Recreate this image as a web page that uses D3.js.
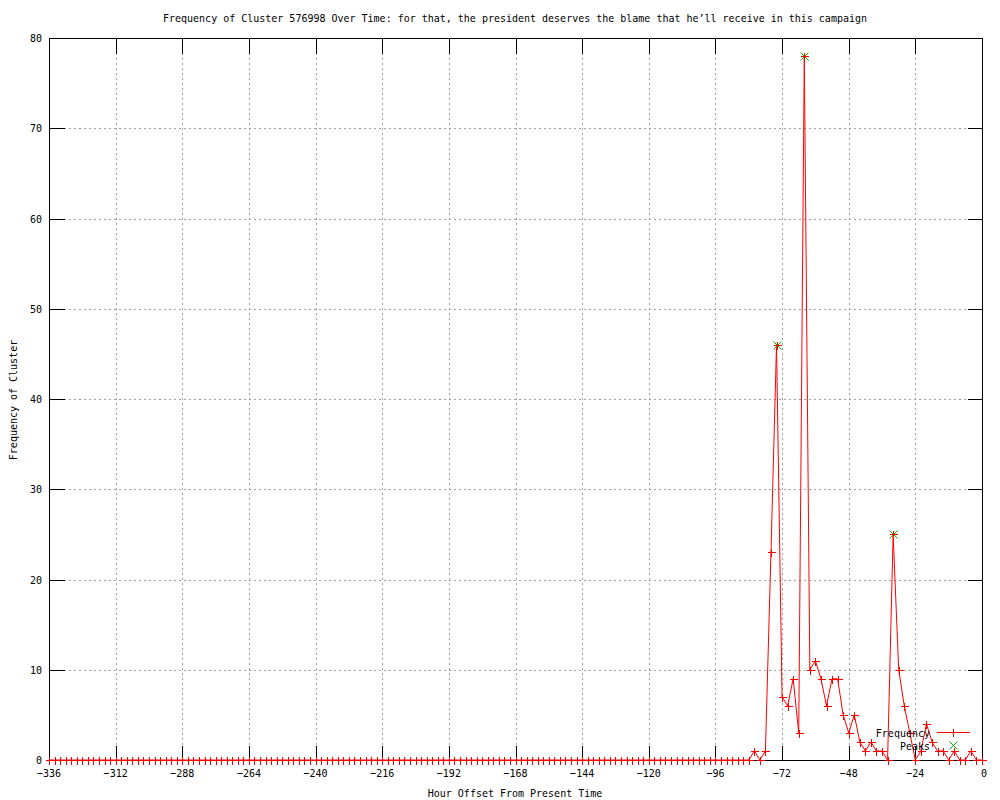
<!DOCTYPE html>
<html>
<head>
<meta charset="utf-8">
<script src="https://cdn.jsdelivr.net/npm/d3@7"></script>
<style>
  html, body { margin: 0; padding: 0; background: #fff; }
  svg { display: block; }
  text { font-family: "DejaVu Sans Mono", "Liberation Mono", monospace; font-size: 11px; fill: #000; }
</style>
</head>
<body>
<svg id="chart" width="1000" height="800"></svg>
<script>
// ---- Data ----
const titleText = "Frequency of Cluster 576998 Over Time: for that, the president deserves the blame that he\u2019ll receive in this campaign";
const xLabelText = "Hour Offset From Present Time";
const yLabelText = "Frequency of Cluster";
const seriesNames = ["Frequency", "Peaks"];

// hour offsets: every 2 hours from -336 to 0
const hours = d3.range(-336, 1, 2);
// frequency values, one per hour offset above
const frequency = [
  0,0,0,0,0,0,0,0,0,0, 0,0,0,0,0,0,0,0,0,0,
  0,0,0,0,0,0,0,0,0,0, 0,0,0,0,0,0,0,0,0,0,
  0,0,0,0,0,0,0,0,0,0, 0,0,0,0,0,0,0,0,0,0,
  0,0,0,0,0,0,0,0,0,0, 0,0,0,0,0,0,0,0,0,0,
  0,0,0,0,0,0,0,0,0,0, 0,0,0,0,0,0,0,0,0,0,
  0,0,0,0,0,0,0,0,0,0, 0,0,0,0,0,0,0,0,0,0,
  0,0,0,0,0,            // -336 .. -88
  0,0,1,0,1,23,46,7,6,9,3,78,10,11,9,6,9,9,5,3,5,2,1,2,1,1,0,25,10,6,3,0,1,4,2,1,1,0,1,0,0,1,0,0 // -86 .. 0
];
const peakHours = [-74, -64, -32];
const peakValues = [46, 78, 25];

const xTicks = [-336,-312,-288,-264,-240,-216,-192,-168,-144,-120,-96,-72,-48,-24,0];
const yTicks = [0,10,20,30,40,50,60,70,80];

// ---- Layout ----
const svg = d3.select("#chart");
const L = 49, R = 982, T = 38, B = 760;
const x = d3.scaleLinear().domain([-336, 0]).range([L, R]);
const y = d3.scaleLinear().domain([0, 80]).range([B, T]);
const px = v => Math.round(v) + 0.5;

function label(txt, tx, ty, anchor, rot) {
  const g = svg.append("g").attr("transform", `translate(${tx},${ty})` + (rot ? ` rotate(${rot})` : "") + " scale(0.91,1)");
  g.append("text").attr("text-anchor", anchor || "middle").text(txt);
}

// grid
const grid = svg.append("g").attr("shape-rendering", "crispEdges")
  .attr("stroke", "#a0a0a0").attr("stroke-dasharray", "2,3").attr("stroke-width", 1);
xTicks.filter(t => t !== -336 && t !== 0).forEach(t => {
  grid.append("line").attr("x1", px(x(t))).attr("x2", px(x(t))).attr("y1", T).attr("y2", B);
});
yTicks.filter(t => t !== 0 && t !== 80).forEach(t => {
  grid.append("line").attr("x1", L).attr("x2", R).attr("y1", px(y(t))).attr("y2", px(y(t)));
});

// axes using d3 axis generators, ticks pointing inward
const tickLen = 15;
const axB = svg.append("g").attr("transform", `translate(0,${B + 0.5})`)
  .call(d3.axisTop(x).tickValues(xTicks).tickSize(tickLen).tickFormat(""));
const axT = svg.append("g").attr("transform", `translate(0,${T + 0.5})`)
  .call(d3.axisBottom(x).tickValues(xTicks).tickSize(tickLen).tickFormat(""));
const axL = svg.append("g").attr("transform", `translate(${L + 0.5},0)`)
  .call(d3.axisRight(y).tickValues(yTicks).tickSize(tickLen).tickFormat(""));
const axR = svg.append("g").attr("transform", `translate(${R + 0.5},0)`)
  .call(d3.axisLeft(y).tickValues(yTicks).tickSize(tickLen).tickFormat(""));
[axB, axT, axL, axR].forEach(a => {
  a.attr("shape-rendering", "crispEdges");
  a.selectAll(".domain").remove();
  a.selectAll(".tick line").attr("stroke", "#000");
});
svg.append("rect").attr("x", L + 0.5).attr("y", T + 0.5).attr("width", R - L).attr("height", B - T)
  .attr("fill", "none").attr("stroke", "#000").attr("shape-rendering", "crispEdges");

// tick labels
xTicks.forEach(t => label(String(t).replace("-", "\u2212"), x(t) + (t === 0 ? 2 : 0), 777, "middle"));
yTicks.forEach(t => label(String(t), 42, y(t) + 4, "end"));

// titles
label(titleText, 515, 22, "middle");
label(xLabelText, 515, 797, "middle");
label(yLabelText, 17, 400, "middle", -90);

// frequency line
const data = hours.map((h, i) => ({ h, v: frequency[i] }));
svg.append("path").datum(data)
  .attr("fill", "none").attr("stroke", "#ff0000").attr("stroke-width", 1)
  .attr("d", d3.line().x(d => x(d.h)).y(d => y(d.v)));

const plus = (cx, cy, s) => `M${cx - s},${cy}H${cx + s}M${cx},${cy - s}V${cy + s}`;
const cross = (cx, cy, s) => `M${cx - s},${cy - s}L${cx + s},${cy + s}M${cx - s},${cy + s}L${cx + s},${cy - s}`;

// peaks (green X), drawn beneath the red markers
svg.append("g").selectAll("path").data(peakHours).join("path")
  .attr("d", (h, i) => cross(px(x(h)), px(y(peakValues[i])), 4))
  .attr("stroke", "#00c000").attr("fill", "none");

// plus markers
svg.append("g").attr("shape-rendering", "crispEdges")
  .selectAll("path").data(data).join("path")
  .attr("d", d => plus(px(x(d.h)), px(y(d.v)), 4))
  .attr("stroke", "#ff0000").attr("fill", "none");

// legend
label(seriesNames[0], 930, 737, "end");
label(seriesNames[1], 930, 750, "end");
svg.append("line").attr("x1", 937).attr("x2", 970).attr("y1", 732.5).attr("y2", 732.5)
  .attr("stroke", "#ff0000").attr("shape-rendering", "crispEdges");
svg.append("path").attr("d", plus(953.5, 732.5, 4)).attr("stroke", "#ff0000").attr("shape-rendering", "crispEdges");
svg.append("path").attr("d", cross(953.5, 745.5, 4)).attr("stroke", "#00c000").attr("fill", "none");
</script>
</body>
</html>
